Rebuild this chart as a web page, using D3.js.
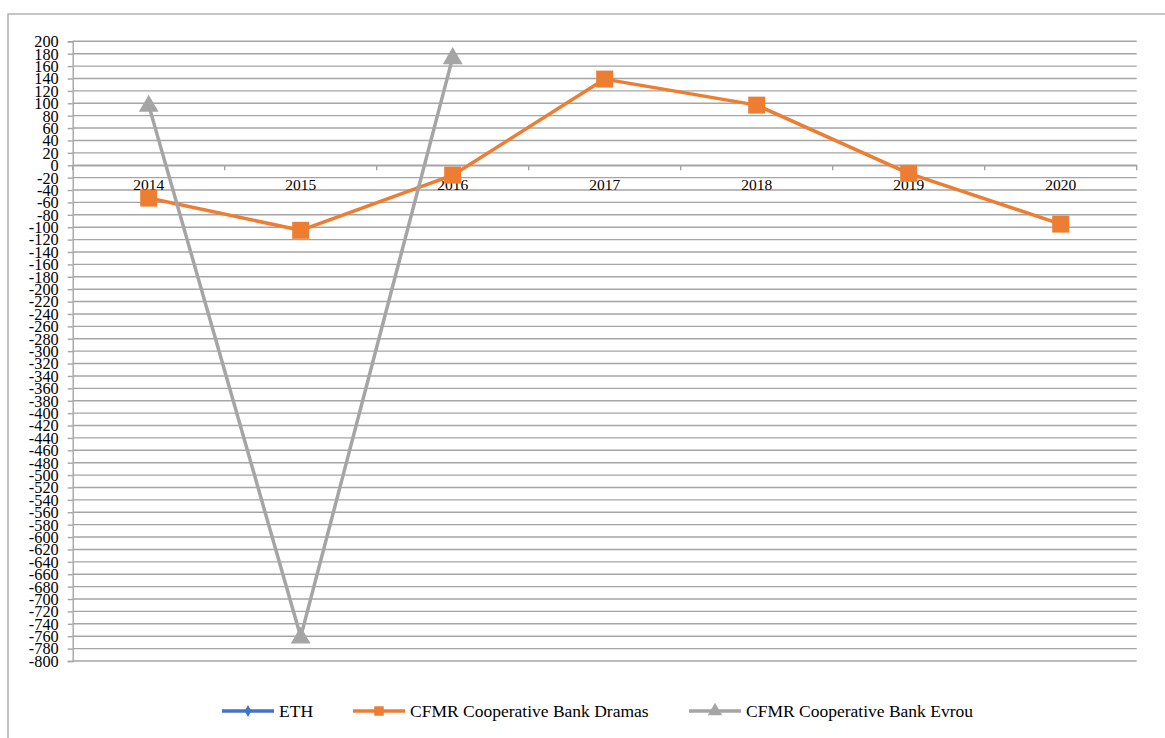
<!DOCTYPE html>
<html>
<head>
<meta charset="utf-8">
<script src="https://cdn.jsdelivr.net/npm/d3@7"></script>
<style>
  html, body { margin: 0; padding: 0; background: #fff; }
  svg { display: block; }
  text { font-family: "Liberation Serif", "Times New Roman", serif; fill: #000; }
</style>
</head>
<body>
<svg id="chart" width="1165" height="738"></svg>
<script>
// ---- data ----
const years = ["2014", "2015", "2016", "2017", "2018", "2019", "2020"];
const ethValues = [null, null, null, null, null, null, null];
const dramasValues = [-53, -105, -16, 139, 97, -13, -95];
const evrouValues = [97, -761, 174, null, null, null, null];
const yTicks = d3.range(200, -801, -20);
const seriesNames = ["ETH", "CFMR Cooperative Bank Dramas", "CFMR Cooperative Bank Evrou"];

// ---- layout ----
const W = 1165, H = 738;
const plot = { left: 72.7, right: 1136.7, top: 41.3, bottom: 661 };
const svg = d3.select("#chart");

// outer frame (extends past the bottom/right of the picture)
svg.append("rect")
  .attr("x", 8).attr("y", 14)
  .attr("width", W + 20).attr("height", H + 20)
  .attr("fill", "none").attr("stroke", "#a6a6a6").attr("stroke-width", 1.3);

const x = d3.scaleBand().domain(years).range([plot.left, plot.right]).padding(0);
const y = d3.scaleLinear().domain([-800, 200]).range([plot.bottom, plot.top]);

// gridlines
svg.append("g").selectAll("line").data(yTicks).join("line")
  .attr("x1", plot.left).attr("x2", plot.right)
  .attr("y1", d => y(d)).attr("y2", d => y(d))
  .attr("stroke", "#a5a5a5").attr("stroke-width", 1.4);

// y axis
const yAxis = d3.axisLeft(y).tickValues(yTicks).tickSize(5).tickPadding(9).tickFormat(d3.format("d"));
const gy = svg.append("g").attr("transform", `translate(${plot.left},0)`).call(yAxis);
gy.select(".domain").attr("stroke", "#a5a5a5").attr("stroke-width", 1.4);
gy.selectAll(".tick line").attr("stroke", "#a5a5a5").attr("stroke-width", 1.4);
gy.selectAll(".tick text")
  .attr("font-family", "Liberation Serif, Times New Roman, serif")
  .attr("font-size", 16.3).attr("fill", "#000")
  .attr("dy", "0.33em")
  .text(d => d < 0 ? "-" + Math.abs(d) : d);

// x axis at zero line
const xAxis = d3.axisBottom(x).tickSize(0).tickPadding(0);
const gx = svg.append("g").attr("transform", `translate(0,${y(0)})`).call(xAxis);
gx.select(".domain").attr("stroke", "#a5a5a5").attr("stroke-width", 1.4);
gx.selectAll(".tick text")
  .attr("font-family", "Liberation Serif, Times New Roman, serif")
  .attr("font-size", 15.5).attr("fill", "#000")
  .attr("dy", null).attr("y", 25);
// category boundary tick marks
const bounds = years.map(d => x(d)).concat([x(years[years.length - 1]) + x.bandwidth()]);
gx.append("g").selectAll("line").data(bounds).join("line")
  .attr("x1", d => d).attr("x2", d => d).attr("y1", 0).attr("y2", 5)
  .attr("stroke", "#a5a5a5").attr("stroke-width", 1.4);

const cx = d => x(d) + x.bandwidth() / 2;
const colors = ["#4472C4", "#ED7D31", "#A5A5A5"];
const allSeries = [ethValues, dramasValues, evrouValues];

const line = d3.line()
  .defined(d => d.v !== null)
  .x(d => cx(d.year)).y(d => y(d.v));

const symbols = [d3.symbolDiamond, d3.symbolSquare, d3.symbolTriangle];
const symbolSizes = [60, 289, 170];

allSeries.forEach((vals, i) => {
  const pts = years.map((yr, j) => ({ year: yr, v: vals[j] }));
  svg.append("path").datum(pts)
    .attr("d", line).attr("fill", "none")
    .attr("stroke", colors[i]).attr("stroke-width", 3.5)
    .attr("stroke-linejoin", "round");
  svg.append("g").selectAll("path").data(pts.filter(p => p.v !== null)).join("path")
    .attr("d", d3.symbol().type(symbols[i]).size(symbolSizes[i]))
    .attr("transform", d => `translate(${cx(d.year)},${y(d.v) + (i === 2 ? 1 : 0)})`)
    .attr("fill", colors[i]);
});

// legend
const legendY = 711;
const legendItems = [
  { x: 222, tx: 279 },
  { x: 353, tx: 410 },
  { x: 689, tx: 746 }
];
legendItems.forEach((it, i) => {
  const g = svg.append("g");
  g.append("line").attr("x1", it.x).attr("x2", it.x + 52)
    .attr("y1", legendY).attr("y2", legendY)
    .attr("stroke", colors[i]).attr("stroke-width", 3.5);
  g.append("path")
    .attr("d", d3.symbol().type(symbols[i]).size(i === 0 ? 40 : 90)())
    .attr("transform", `translate(${it.x + 26},${legendY})`)
    .attr("fill", colors[i]);
  g.append("text").attr("x", it.tx).attr("y", legendY + 6)
    .attr("font-size", 17.5).text(seriesNames[i]);
});
</script>
</body>
</html>
